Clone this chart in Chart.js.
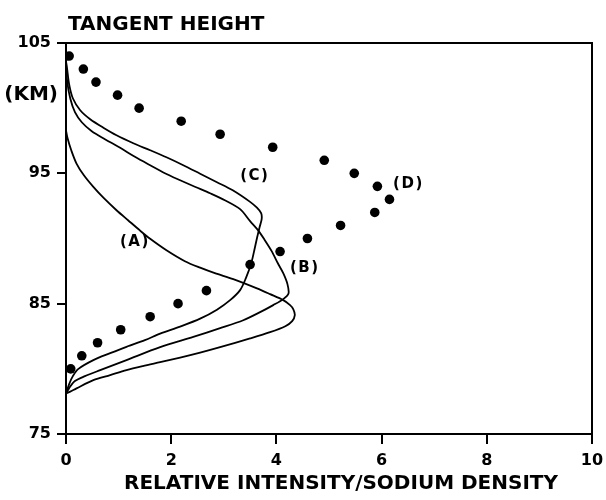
<!DOCTYPE html>
<html><head><meta charset="utf-8">
<script src="https://cdn.jsdelivr.net/npm/chart.js@4/dist/chart.umd.min.js"></script>
<style>html,body{margin:0;padding:0;background:#fff;}</style>
</head><body>
<canvas id="c" width="606" height="500"></canvas>
<script>
// ---- data ----
const xTicks = [0, 2, 4, 6, 8, 10];
const yTicks = [75, 85, 95, 105];

// (D) sodium density points
const heightsD = [104,103,102,101,100,99,98,97,96,95,94,93,92,91,90,89,88,86,85,84,83,82,81,80];
const valuesD  = [0.06,0.33,0.57,0.98,1.39,2.19,2.93,3.93,4.91,5.48,5.92,6.15,5.87,5.22,4.59,4.07,3.50,2.67,2.13,1.60,1.04,0.60,0.30,0.09];

// (A) curve
const curveA_x = [0,0.08,0.20,0.52,0.84,1.15,1.46,1.79,2.17,2.55,2.93,3.50,3.88,4.17,4.30,4.35,4.32,4.26,4.13,3.88,3.63,3.18,2.83,2.55,2.26,1.91,1.60,1.41,1.18,0.96,0.72,0.52,0.34,0.20,0.10,0.03,0];
const curveA_y = [78.1,78.25,78.5,79.13,79.52,79.9,80.21,80.51,80.86,81.24,81.66,82.33,82.81,83.27,83.66,84.12,84.58,84.89,85.27,85.73,86.17,86.88,87.34,87.76,88.26,89.1,89.98,90.6,91.4,92.17,93.09,93.96,94.85,95.75,96.77,97.69,98.3];

// (B) curve
const curveB_x = [0,0.06,0.17,0.36,0.65,1.15,1.79,2.42,2.93,3.37,3.69,3.94,4.13,4.23,4.21,4.13,4.03,3.91,3.78,3.65,3.50,3.31,3.02,2.74,2.45,2.17,1.88,1.60,1.31,1.03,0.74,0.49,0.30,0.17,0.08,0.02,0];
const curveB_y = [78.1,78.52,79.06,79.44,79.9,80.67,81.66,82.45,83.12,83.73,84.35,84.89,85.35,85.78,86.5,87.34,88.08,89.03,89.87,90.64,91.33,92.25,92.94,93.47,93.97,94.47,95.01,95.62,96.27,96.96,97.62,98.23,98.92,99.69,100.76,102.14,103.52];

// (C) curve
const curveC_x = [0,0.06,0.13,0.23,0.52,0.84,1.15,1.50,1.79,2.17,2.55,2.87,3.12,3.31,3.42,3.52,3.58,3.63,3.68,3.72,3.71,3.63,3.50,3.17,2.87,2.55,2.23,1.91,1.60,1.28,0.96,0.71,0.46,0.27,0.13,0.06,0.02,0];
const curveC_y = [78.1,78.83,79.44,79.98,80.67,81.2,81.69,82.2,82.7,83.24,83.85,84.54,85.27,86.04,86.96,88.08,89.1,90.02,90.87,91.48,91.94,92.36,92.81,93.7,94.32,94.97,95.62,96.23,96.77,97.31,97.92,98.5,99.15,99.84,100.76,101.83,103.06,103.6];

const curveLabels = ['(A)', '(B)', '(C)', '(D)'];
const labelX = [1.31, 4.54, 3.59, 6.51];
const labelY = [89.7, 87.7, 94.8, 94.2];

const yTitleTop = 'TANGENT HEIGHT';
const yTitleUnit = '(KM)';
const xTitle = 'RELATIVE INTENSITY/SODIUM DENSITY';

// ---- build ----
const pts = (xs, ys) => xs.map((v, i) => ({x: v, y: ys[i]}));
const FONT = '"DejaVu Sans", sans-serif';

const curveStyle = {
  showLine: true, borderColor: '#000', borderWidth: 1.8, pointRadius: 0,
  tension: 0.3, fill: false
};

const annot = {
  id: 'annot',
  afterDraw(chart) {
    const {ctx, chartArea: a, scales: {x, y}} = chart;
    ctx.save();
    ctx.strokeStyle = '#000'; ctx.lineWidth = 2;
    ctx.beginPath();
    ctx.moveTo(a.left, a.top); ctx.lineTo(a.right, a.top); ctx.lineTo(a.right, a.bottom);
    ctx.stroke();
    ctx.fillStyle = '#000';
    ctx.textBaseline = 'middle';
    try { ctx.letterSpacing = '1.5px'; } catch(e) {}
    ctx.font = 'bold 15px ' + FONT;
    ctx.textAlign = 'center';
    curveLabels.forEach((t, i) => ctx.fillText(t, x.getPixelForValue(labelX[i]), y.getPixelForValue(labelY[i])));
    try { ctx.letterSpacing = '0px'; } catch(e) {}
    ctx.font = 'bold 20px ' + FONT;
    ctx.textAlign = 'left';
    ctx.fillText(yTitleTop, a.left + 2, a.top - 18);
    ctx.textAlign = 'right';
    ctx.fillText(yTitleUnit, a.left - 8, y.getPixelForValue(101.0));
    ctx.textAlign = 'center';
    ctx.fillText(xTitle, (a.left + a.right) / 2 + 12, a.bottom + 50);
    ctx.restore();
  }
};

new Chart(document.getElementById('c'), {
  type: 'scatter',
  data: {
    datasets: [
      Object.assign({label: 'A', data: pts(curveA_x, curveA_y)}, curveStyle),
      Object.assign({label: 'B', data: pts(curveB_x, curveB_y)}, curveStyle),
      Object.assign({label: 'C', data: pts(curveC_x, curveC_y)}, curveStyle),
      {label: 'D', data: pts(valuesD, heightsD), showLine: false,
       pointRadius: 4.8, pointBackgroundColor: '#000', pointBorderColor: '#000', pointBorderWidth: 0}
    ]
  },
  options: {
    responsive: false,
    animation: false,
    layout: {padding: {top: 43, right: 14, left: 0, bottom: 0}},
    plugins: {legend: {display: false}, tooltip: {enabled: false}},
    scales: {
      x: {
        type: 'linear', min: 0, max: 10,
        afterBuildTicks: s => { s.ticks = xTicks.map(v => ({value: v})); },
        afterFit: s => { s.height = 66; s.paddingLeft = 0; s.paddingRight = 0; },
        border: {display: true, color: '#000', width: 2},
        grid: {drawOnChartArea: false, drawTicks: true, tickLength: 10, color: '#000', lineWidth: 2},
        ticks: {color: '#000', padding: 7, maxRotation: 0, font: {family: FONT, size: 16, weight: 'bold'}},
        title: {display: false}
      },
      y: {
        type: 'linear', min: 75, max: 105,
        afterBuildTicks: s => { s.ticks = yTicks.map(v => ({value: v})); },
        afterFit: s => { s.width = 66; s.paddingTop = 0; s.paddingBottom = 0; },
        border: {display: true, color: '#000', width: 2},
        grid: {drawOnChartArea: false, drawTicks: true, tickLength: 9, color: '#000', lineWidth: 2},
        ticks: {color: '#000', padding: 6, font: {family: FONT, size: 16, weight: 'bold'}}
      }
    }
  },
  plugins: [annot]
});
</script>
</body></html>
